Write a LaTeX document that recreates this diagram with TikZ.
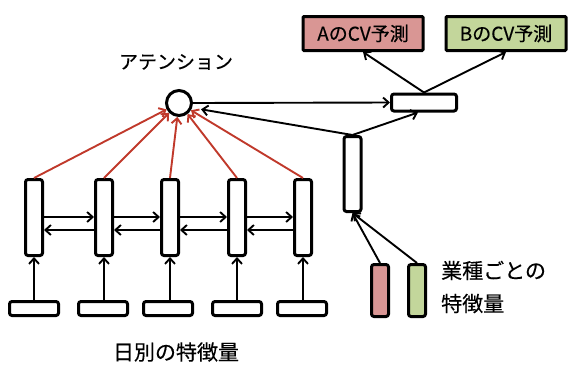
\documentclass[tikz,border=0pt]{standalone}
\usepackage{fontspec}
\setmainfont[FakeBold=0.35]{Noto Sans CJK JP}
\usetikzlibrary{arrows.meta}
\definecolor{boxred}{RGB}{217,150,148}
\definecolor{boxgreen}{RGB}{195,214,155}
\definecolor{arrred}{RGB}{192,57,43}
\begin{document}
\begin{tikzpicture}[x=1pt,y=-1pt,
  box/.style={draw, line width=3pt, rounded corners=2.5pt, fill=white, inner sep=0pt},
  vbox/.style={box, minimum width=17pt, minimum height=76pt},
  inbox/.style={box, minimum width=49pt, minimum height=14pt},
  outbox/.style={box, rounded corners=1pt, minimum width=120pt, minimum height=34pt, font=\fontsize{19}{22}\selectfont},
  arr/.style={-{Straight Barb[length=5.5pt,width=10pt]}, line width=1.9pt},
  redarr/.style={arr, draw=arrred},
  lbl/.style={inner sep=0pt, font=\fontsize{20}{24}\selectfont}]
\useasboundingbox (0,0) rectangle (568,365);

% attention
\node[draw, circle, line width=3pt, fill=white, minimum size=25pt, inner sep=0pt] (att) at (179,103) {};
\node[lbl, font=\fontsize{19}{22}\selectfont] (attlbl) at (176,62) {アテンション};

% daily LSTM boxes
\foreach \i/\x in {1/34,2/104,3/170,4/237,5/303}{
  \node[vbox] (h\i) at (\x,217.5) {};
}
\foreach \i/\x in {1/34,2/103,3/168,4/237,5/302}{
  \node[inbox] (x\i) at (\x,308.5) {};
}
\foreach \i in {1,...,5}{
  \draw[arr] (x\i.north -| h\i) -- (h\i.south);
  \draw[redarr] (h\i.north) -- (att);
}
\foreach \i/\j in {1/2,2/3,3/4,4/5}{
  \draw[arr] (h\i.east |- 0,217) -- (h\j.west |- 0,217);
  \draw[arr] (h\j.west |- 0,230) -- (h\i.east |- 0,230);
}
\node[lbl, font=\fontsize{21}{24}\selectfont] (daily) at (176,352) {日別の特徴量};

% right side
\node[box, minimum width=65pt, minimum height=17pt] (s) at (424,102.5) {};
\node[outbox, fill=boxred] (A) at (363,33.5) {AのCV予測};
\node[outbox, fill=boxgreen] (B) at (506,33.5) {BのCV予測};
\node[vbox, minimum height=75pt] (v) at (352.5,174) {};
\node[box, fill=boxred, minimum width=17pt, minimum height=52pt] (p) at (380,290.5) {};
\node[box, fill=boxgreen, minimum width=17pt, minimum height=52pt] (g) at (417,290.5) {};
\node[lbl, anchor=west, align=left, font=\fontsize{21}{33}\selectfont] (ind) at (441,287) {業種ごとの\\特徴量};

\draw[arr] (s.north) -- (A.south);
\draw[arr] (s.north) -- (B.south);
\draw[arr] (att.east) -- (s.west);
\draw[arr] (v.north) -- ([xshift=-6pt]s.south);
\draw[arr, shorten >=9pt] (v.north) -- (att.-20);
\draw[arr] (p.north) -- (v.south);
\draw[arr] (g.north) -- (v.south);
\end{tikzpicture}
\end{document}
